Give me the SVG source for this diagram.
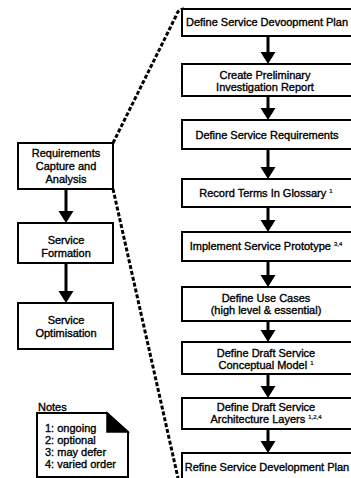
<svg xmlns="http://www.w3.org/2000/svg" width="351" height="478" viewBox="0 0 351 478">
<style>
.box{fill:#fff;stroke:#000;stroke-width:2}
.t{font-family:"Liberation Sans",Arial,sans-serif;font-size:11px;fill:#000;stroke:#000;stroke-width:0.35;text-anchor:middle}
.n{font-family:"Liberation Sans",Arial,sans-serif;font-size:11px;fill:#000;stroke:#000;stroke-width:0.35}
.sup{font-size:6px;stroke-width:0.2}
.sh{stroke:#000;stroke-width:3;fill:none}
.dash{stroke:#000;stroke-width:3;fill:none;stroke-dasharray:4 2}
</style>
<defs>
<polygon id="ah" points="-7.5,-12 7.5,-12 0,0" fill="#000"/>
</defs>
<rect width="351" height="478" fill="#fff"/>
<g id="connectors">
<path class="dash" d="M113,143 L176,16 Q178,9 184,9"/>
<path class="dash" d="M113,189 L178,478"/>
<line class="sh" x1="66" y1="189" x2="66" y2="212"/>
<use href="#ah" x="66" y="223"/>
<line class="sh" x1="66" y1="263" x2="66" y2="292"/>
<use href="#ah" x="66" y="303"/>
<line class="sh" x1="268" y1="36" x2="268" y2="53"/>
<use href="#ah" x="268" y="64"/>
<line class="sh" x1="268" y1="96" x2="268" y2="109"/>
<use href="#ah" x="268" y="120"/>
<line class="sh" x1="268" y1="149" x2="268" y2="168"/>
<use href="#ah" x="268" y="179"/>
<line class="sh" x1="268" y1="207" x2="268" y2="221"/>
<use href="#ah" x="268" y="232"/>
<line class="sh" x1="268" y1="261" x2="268" y2="276"/>
<use href="#ah" x="268" y="287"/>
<line class="sh" x1="268" y1="321" x2="268" y2="331"/>
<use href="#ah" x="268" y="342"/>
<line class="sh" x1="268" y1="374" x2="268" y2="387"/>
<use href="#ah" x="268" y="398"/>
<line class="sh" x1="268" y1="429" x2="268" y2="442"/>
<use href="#ah" x="268" y="453"/>
</g>
<g id="req">
<rect class="box" x="18" y="143" width="95" height="46"/>
<text class="t" x="66" y="157">Requirements</text>
<text class="t" x="66" y="170">Capture and</text>
<text class="t" x="66" y="183">Analysis</text>
</g>
<g id="formation">
<rect class="box" x="18" y="223" width="95" height="40"/>
<text class="t" x="66" y="244">Service</text>
<text class="t" x="66" y="257">Formation</text>
</g>
<g id="optimisation">
<rect class="box" x="18" y="303" width="95" height="46"/>
<text class="t" x="66" y="324">Service</text>
<text class="t" x="66" y="337">Optimisation</text>
</g>
<g id="notes">
<text class="n" x="38" y="411">Notes</text>
<path class="box" d="M37,413 L107,413 L128,432 L128,477 L37,477 Z"/>
<path d="M107,413 L128,432 L107,432 Z" fill="#000" stroke="#000" stroke-width="1.5"/>
<text class="n" x="45" y="432">1: ongoing</text>
<text class="n" x="45" y="444">2: optional</text>
<text class="n" x="45" y="456">3: may defer</text>
<text class="n" x="45" y="468">4: varied order</text>
</g>
<g id="s1">
<rect class="box" x="182" y="9" width="171" height="27"/>
<text class="t" x="267" y="26">Define Service Devoopment Plan</text>
</g>
<g id="s2">
<rect class="box" x="182" y="64" width="171" height="32"/>
<text class="t" x="265" y="79">Create Preliminary</text>
<text class="t" x="265" y="91">Investigation Report</text>
</g>
<g id="s3">
<rect class="box" x="182" y="120" width="171" height="29"/>
<text class="t" x="267" y="139">Define Service Requirements</text>
</g>
<g id="s4">
<rect class="box" x="182" y="179" width="171" height="28"/>
<text class="t" x="266" y="197">Record Terms In Glossary <tspan class="sup" dy="-4">1</tspan></text>
</g>
<g id="s5">
<rect class="box" x="182" y="232" width="171" height="29"/>
<text class="t" x="266" y="250">Implement Service Prototype <tspan class="sup" dy="-4">3,4</tspan></text>
</g>
<g id="s6">
<rect class="box" x="182" y="287" width="171" height="34"/>
<text class="t" x="266" y="302">Define Use Cases</text>
<text class="t" x="266" y="314">(high level &amp; essential)</text>
</g>
<g id="s7">
<rect class="box" x="182" y="342" width="171" height="32"/>
<text class="t" x="266" y="357">Define Draft Service</text>
<text class="t" x="266" y="369">Conceptual Model <tspan class="sup" dy="-4">1</tspan></text>
</g>
<g id="s8">
<rect class="box" x="182" y="398" width="171" height="31"/>
<text class="t" x="266" y="411">Define Draft Service</text>
<text class="t" x="266" y="423">Architecture Layers <tspan class="sup" dy="-4">1,2,4</tspan></text>
</g>
<g id="s9">
<rect class="box" x="182" y="453" width="171" height="32"/>
<text class="t" x="267" y="471">Refine Service Development Plan</text>
</g>
</svg>
